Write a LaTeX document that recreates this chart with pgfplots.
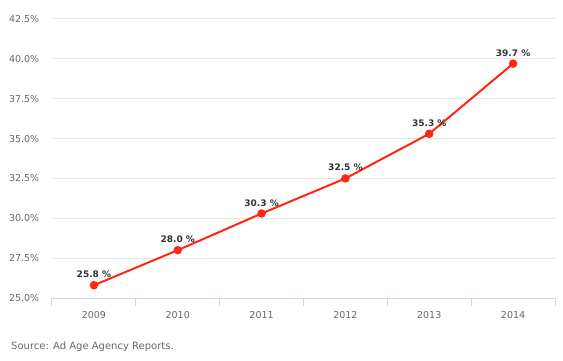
\documentclass[border=0pt]{standalone}
\usepackage{pgfplots}
\pgfplotsset{compat=1.18}
\usepackage{fontspec}
\setmainfont{DejaVu Sans}
\definecolor{linered}{RGB}{255,38,20}
\definecolor{gridgray}{RGB}{230,230,230}
\definecolor{axisblue}{RGB}{204,214,235}
\definecolor{labelgray}{RGB}{102,102,102}
\definecolor{darktext}{RGB}{51,51,51}
\begin{document}
\begin{tikzpicture}
\useasboundingbox (-52bp,-63bp) rectangle (511bp,298bp);
\begin{axis}[
  scale only axis,
  width=503bp, height=279bp,
  xmin=-0.5, xmax=5.5,
  ymin=25, ymax=42.5,
  clip=false,
  axis lines*=left,
  y axis line style={draw=none},
  x axis line style={draw=axisblue, line width=1bp},
  xtick={0,1,2,3,4,5},
  xticklabels={2009,2010,2011,2012,2013,2014},
  major x tick style={draw=none},
  minor xtick={-0.5,0.5,1.5,2.5,3.5,4.5,5.5},
  minor x tick style={draw=axisblue, line width=1bp},
  minor tick length=8bp,
  tick align=outside,
  ytick={25,27.5,30,32.5,35,37.5,40,42.5},
  major y tick style={draw=none},
  yticklabel={\pgfmathprintnumber[fixed,fixed zerofill,precision=1]{\tick}\%},
  /pgf/number format/assume math mode=true,
  ymajorgrids,
  grid style={draw=gridgray, line width=1bp},
  tick label style={font=\fontsize{9.5bp}{11bp}\selectfont, text=labelgray},
  xticklabel style={yshift=-6bp},
  yticklabel style={xshift=-5bp},
  nodes near coords={\pgfmathprintnumber[fixed,fixed zerofill,precision=1]{\pgfplotspointmeta}~\%},
  nodes near coords style={font=\bfseries\fontsize{9bp}{10bp}\selectfont, text=darktext, anchor=south, yshift=3bp, /pgf/number format/assume math mode=true},
]
\addplot[color=linered, line width=2bp, mark=*, mark size=3.2bp, mark options={fill=linered, draw=linered}] coordinates {
  (0,25.8) (1,28.0) (2,30.3) (3,32.5) (4,35.3) (5,39.7)
};
\end{axis}
\node[anchor=base west, font=\fontsize{10bp}{12bp}\selectfont, text=labelgray, inner sep=0pt] at (-41bp,-51bp) {Source: Ad Age Agency Reports.};
\end{tikzpicture}
\end{document}
